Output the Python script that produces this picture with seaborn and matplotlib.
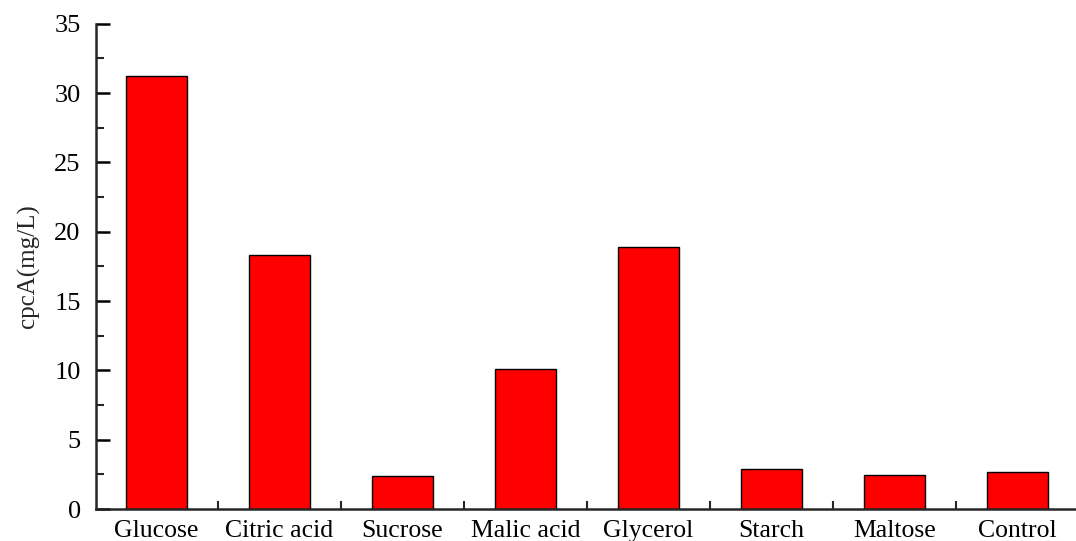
import matplotlib
matplotlib.use("Agg")
import matplotlib.pyplot as plt
from matplotlib.ticker import MultipleLocator, FixedLocator
import pandas as pd
import seaborn as sns

carbon = ["Glucose", "Citric acid", "Sucrose", "Malic acid", "Glycerol",
          "Starch", "Maltose", "Control"]
cpca = [31.2, 18.3, 2.38, 10.1, 18.9, 2.9, 2.47, 2.67]

df = pd.DataFrame({"carbon": carbon, "cpca": cpca})

sns.set_style("ticks")
plt.rcParams["font.family"] = ["Liberation Serif", "DejaVu Serif"]

fig, ax = plt.subplots(figsize=(10.76, 5.41), dpi=100)
fig.subplots_adjust(left=0.0892, right=1.003, bottom=0.059, top=0.956)

sns.barplot(data=df, x="carbon", y="cpca", color="#ff0000", saturation=1,
            width=0.5, edgecolor="black", linewidth=1, ax=ax)

ax.set_xlim(-0.49, 7.5)
ax.set_ylim(0, 35)
ax.yaxis.set_major_locator(MultipleLocator(5))
ax.yaxis.set_minor_locator(MultipleLocator(2.5))
ax.xaxis.set_minor_locator(FixedLocator([i + 0.5 for i in range(len(carbon) - 1)]))

for s in ["top", "right"]:
    ax.spines[s].set_visible(False)
for s in ["left", "bottom"]:
    ax.spines[s].set_linewidth(1.8)

ax.tick_params(axis="both", which="major", direction="in", length=10, width=1.8,
               labelsize=19, colors="black")
ax.tick_params(axis="both", which="minor", direction="in", length=6, width=1.5)
ax.tick_params(axis="y", which="major", pad=11)
ax.tick_params(axis="x", which="major", pad=8, labelsize=18.5)

ax.set_xlabel("")
ax.set_ylabel("cpcA(mg/L)", fontsize=18, labelpad=10)

fig.savefig("out.png", dpi=100)
